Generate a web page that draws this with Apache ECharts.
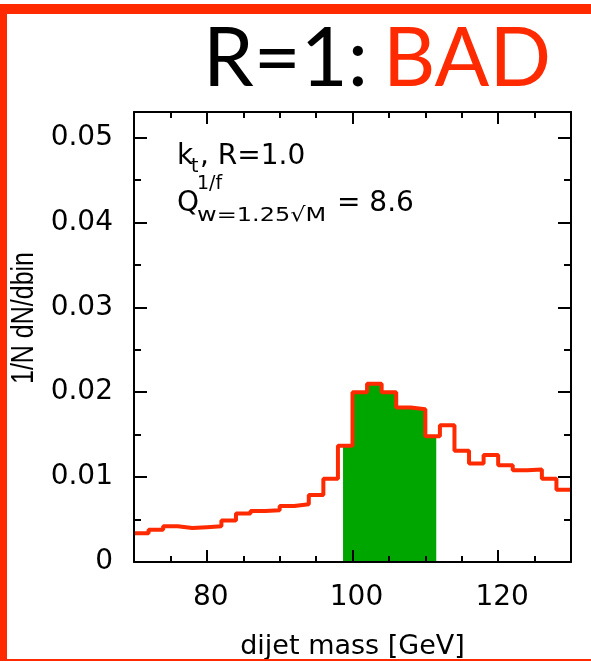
<!DOCTYPE html>
<html><head><meta charset="utf-8">
<script src="https://cdn.jsdelivr.net/npm/echarts@6/dist/echarts.min.js"></script>
<style>html,body{margin:0;padding:0;background:#fff}#c{width:591px;height:661px}</style>
</head><body><div id="c"></div>
<script>
// ---- data ----
const massBinEdges = [70,72,74,76,78,80,82,84,86,88,90,92,94,96,98,100,102,104,106,108,110,112,114,116,118,120,122,124,126,128];
const lastBinUpperEdge = 130;
const binValues = [0.0034,0.0038,0.0042,0.0040,0.0041,0.0042,0.0049,0.0057,0.0060,0.0061,
                   0.0066,0.0068,0.0079,0.0098,0.0137,0.0200,0.0210,0.0200,0.0182,0.0180,
                   0.0148,0.0161,0.0131,0.0116,0.0126,0.0114,0.0108,0.0109,0.0098,0.0085];
const massWindow = [98.7, 111.5];
const xMajorTicks = [80,100,120];
const xMinorTicks = [75,85,90,95,105,110,115,125];
const yMajorTicks = [0,0.01,0.02,0.03,0.04,0.05];
const yMinorTicks = [0.005,0.015,0.025,0.035,0.045];
const yTickLabels = ['0','0.01','0.02','0.03','0.04','0.05'];
const xRange = [70,130];
const yRange = [0,0.053];

// ---- build series data ----
const histData = massBinEdges.map((e,i)=>[e, binValues[i]]);
histData.push([lastBinUpperEdge, binValues[binValues.length-1]]);
function valueAt(x){
  for(let i=0;i<massBinEdges.length;i++){
    const hi = i+1<massBinEdges.length ? massBinEdges[i+1] : lastBinUpperEdge;
    if(x>=massBinEdges[i] && x<hi) return binValues[i];
  }
  return 0;
}
const windowData = [[massWindow[0], valueAt(massWindow[0])]];
massBinEdges.forEach((e,i)=>{ if(e>massWindow[0] && e<massWindow[1]) windowData.push([e, binValues[i]]); });
windowData.push([massWindow[1], valueAt(massWindow[1])]);

const RED = '#ff2a00', GREEN = '#00a600';
const tickFont = 'DejaVu Sans';

function xAxisDef(pos, ticks, len, showLine, labels){
  return {
    type:'value', position:pos, min:xRange[0], max:xRange[1], z:5,
    axisLine:{show:showLine, onZero:false, lineStyle:{color:'#000', width:2}},
    axisTick:{show:true, inside:true, length:len, customValues:ticks, lineStyle:{color:'#000', width:2}},
    axisLabel: labels ? {show:true, customValues:ticks, color:'#000', fontFamily:tickFont, fontSize:28, margin:22, padding:[0,0,0,8]} : {show:false},
    splitLine:{show:false}
  };
}
function yAxisDef(pos, ticks, len, showLine, labels){
  return {
    type:'value', position:pos, min:yRange[0], max:yRange[1], z:5,
    axisLine:{show:showLine, onZero:false, lineStyle:{color:'#000', width:2}},
    axisTick:{show:true, inside:true, length:len, customValues:ticks, lineStyle:{color:'#000', width:2}},
    axisLabel: labels ? {show:true, customValues:ticks, color:'#000', fontFamily:tickFont, fontSize:28, margin:21,
      formatter:(v)=>{ const i = yMajorTicks.findIndex(t=>Math.abs(t-v)<1e-9); return i>=0 ? yTickLabels[i] : ''; }} : {show:false},
    splitLine:{show:false}
  };
}

const xAxes = [
  Object.assign(xAxisDef('bottom', xMajorTicks, 12, true, true), {name:'dijet mass [GeV]', nameLocation:'middle', nameGap:71,
    nameTextStyle:{fontFamily:tickFont, fontSize:27, color:'#000'}}),
  xAxisDef('bottom', xMinorTicks, 6, false, false),
  xAxisDef('top', xMajorTicks, 12, true, false),
  xAxisDef('top', xMinorTicks, 6, false, false)
];
const yAxes = [
  yAxisDef('left', yMajorTicks, 13, true, true),
  yAxisDef('left', yMinorTicks, 7, false, false),
  yAxisDef('right', yMajorTicks, 13, true, false),
  yAxisDef('right', yMinorTicks, 7, false, false)
];

const chart = echarts.init(document.getElementById('c'), null, {renderer:'canvas'});
const t = (text, x, y, size, extra) => ({type:'text', z:20, x, y, ...(extra||{}), style:{text, x:0, y:0, fill:'#000',
  font: size+'px "DejaVu Sans"', verticalAlign:'middle', align:'left'}});

chart.setOption({
  animation:false,
  backgroundColor:'#fff',
  title:{
    text:'{a|R=1:}{b|BAD}', left:203, top:15, padding:0,
    textStyle:{rich:{
      a:{fontFamily:'Lato', fontSize:81, fontWeight:'normal', color:'#000', width:180, lineHeight:90},
      b:{fontFamily:'Lato', fontSize:81, fontWeight:'normal', color:RED, lineHeight:90}
    }}
  },
  grid:{left:134, right:20, top:112, bottom:99, containLabel:false, outerBoundsMode:'none'},
  xAxis: xAxes,
  yAxis: yAxes,
  series:[
    {type:'line', data:windowData, step:'end', symbol:'none', z:2, xAxisIndex:0, yAxisIndex:0,
      lineStyle:{width:0}, areaStyle:{color:GREEN, opacity:1}, silent:true},
    {type:'line', data:histData, step:'end', symbol:'none', z:3, xAxisIndex:0, yAxisIndex:0,
      lineStyle:{color:RED, width:4}, silent:true}
  ],
  graphic:[
    {type:'rect', shape:{x:0,y:4,width:591,height:10}, style:{fill:RED}, z:30},
    {type:'rect', shape:{x:0,y:4,width:7,height:657}, style:{fill:RED}, z:30},
    {type:'rect', shape:{x:0,y:659,width:591,height:2}, style:{fill:RED}, z:30},
    {type:'text', z:20, x:24, y:318, rotation:Math.PI/2, scaleY:1.25,
      style:{text:'1/N dN/dbin', x:0, y:0, fill:'#000', font:'25px "Liberation Sans"', align:'center', verticalAlign:'middle'}},
    t('k', 177, 156.6, 28),
    t('t', 191, 167.3, 19),
    t(', R=1.0', 200, 156.6, 28),
    t('Q', 177, 203.6, 28),
    t('1/f', 197, 184.3, 19),
    t('w=1.25\u221AM', 197, 215.8, 20, {scaleX:1.2}),
    t('= 8.6', 337, 203.6, 28)
  ]
});
</script>
</body></html>
